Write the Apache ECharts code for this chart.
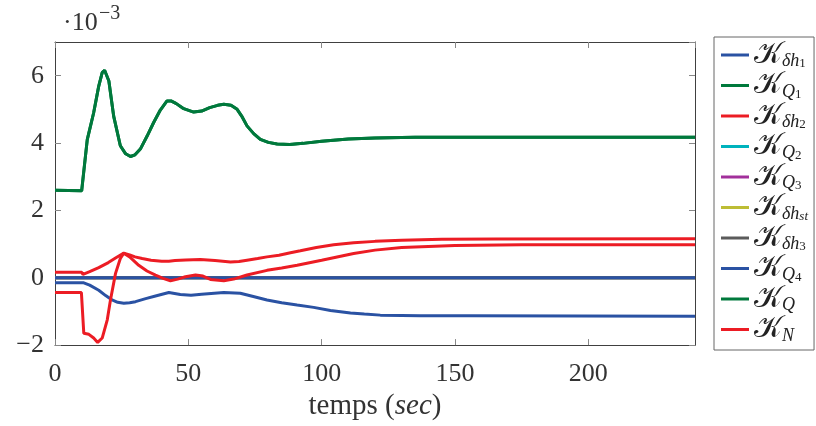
<!DOCTYPE html>
<html><head><meta charset="utf-8">
<script src="https://cdn.jsdelivr.net/npm/echarts@6/dist/echarts.min.js"></script>
<style>html,body{margin:0;padding:0;background:#fff}#c{width:816px;height:426px}</style>
</head><body><div id="c"></div>
<script>
// ---- data (values ×10^-3) ----
const xTicks = [0, 50, 100, 150, 200];
const yTicks = [-2, 0, 2, 4, 6];

const greenT = [0,10,12.1,14.5,16.4,17.7,18.6,20.2,22,24.5,26.5,28.3,30,32,34.5,37,39.5,42,43.5,45.5,48,52,55,58,61,63.3,66,68.3,70,72,74.5,77,80,83.3,88,93,100,110,120,135,160,240];
const greenV = [2.6,2.58,4.1,4.9,5.69,6.09,6.16,5.84,4.8,3.92,3.68,3.6,3.65,3.82,4.2,4.61,4.98,5.25,5.25,5.17,5.03,4.92,4.95,5.05,5.12,5.15,5.12,5.0,4.8,4.51,4.28,4.11,4.02,3.97,3.96,3.99,4.05,4.12,4.15,4.17,4.17,4.17];

const redAT = [0,10,10.5,13,16.4,20,23,25.8,28,30,32.7,36,40,42.7,45,49,54.5,60,65.8,69,72,76,79.5,84,88.3,92,98,104.5,112,120,130,145,165,240];
const redAV = [0.16,0.16,0.1,0.18,0.3,0.45,0.6,0.73,0.68,0.62,0.57,0.52,0.49,0.49,0.51,0.53,0.54,0.51,0.47,0.48,0.52,0.57,0.62,0.67,0.74,0.8,0.9,0.98,1.04,1.08,1.11,1.14,1.15,1.16];

const redBT = [0,9.9,10.8,12.7,14.5,16,17.7,19.6,20.8,22.7,24.5,25.8,28,31.4,34.5,37.7,40.5,43.3,46,48.9,52.7,55.5,58.3,63.3,67,72,79.5,85,90.8,100,112,120,130,150,175,240];
const redBV = [-0.44,-0.44,-1.65,-1.68,-1.79,-1.92,-1.79,-1.25,-0.66,0.13,0.57,0.73,0.62,0.37,0.2,0.08,-0.02,-0.09,-0.04,0.03,0.08,0.05,-0.05,-0.09,-0.04,0.08,0.22,0.29,0.37,0.52,0.72,0.82,0.9,0.96,0.98,0.98];

const blueT = [0,10.8,13,16.4,19,21.4,23.5,25.8,28,30.2,34,37.7,42.7,47,51,55,63.3,69.5,74,79.5,85,90.8,97,103.3,110.8,116,122,130,137,155,240];
const blueV = [-0.15,-0.15,-0.22,-0.37,-0.53,-0.66,-0.73,-0.76,-0.74,-0.71,-0.62,-0.54,-0.44,-0.5,-0.52,-0.49,-0.44,-0.46,-0.55,-0.66,-0.74,-0.81,-0.88,-0.97,-1.05,-1.08,-1.11,-1.12,-1.13,-1.13,-1.14];

const zeroT = [0, 240];
const zeroV = [0, 0];

const names = ['dh1','Q1','dh2','Q2','Q3','dhst','dh3','Q4','Q','N'];
const labels = {
  dh1: '{k|𝒦}{s|δh}{ss|1}',
  Q1: '{k|𝒦}{s|Q}{ss|1}',
  dh2: '{k|𝒦}{s|δh}{ss|2}',
  Q2: '{k|𝒦}{s|Q}{ss|2}',
  Q3: '{k|𝒦}{s|Q}{ss|3}',
  dhst: '{k|𝒦}{s|δh}{ssi|st}',
  dh3: '{k|𝒦}{s|δh}{ss|3}',
  Q4: '{k|𝒦}{s|Q}{ss|4}',
  Q: '{k|𝒦}{s|Q}',
  N: '{k|𝒦}{s|N}'
};
const colors = {
  dh1:'#2a52a3', Q1:'#00793c', dh2:'#ec1c24', Q2:'#00b3bd', Q3:'#a2309b',
  dhst:'#bdbd35', dh3:'#5b5b5b', Q4:'#2a52a3', Q:'#00793c', N:'#ec1c24'
};
const seriesData = {
  dh1:[blueT, blueV], Q1:[greenT, greenV], dh2:[redAT, redAV],
  Q2:[zeroT, zeroV], Q3:[zeroT, zeroV], dhst:[zeroT, zeroV], dh3:[zeroT, zeroV],
  Q4:[zeroT, zeroV], Q:[greenT, greenV], N:[redBT, redBV]
};

const serif = '"Liberation Serif", "DejaVu Serif", serif';
const chart = echarts.init(document.getElementById('c'), null, {renderer:'canvas'});
const minusFmt = v => (v < 0 ? '\u2212' + Math.abs(v) : String(v));
const axisCol = '#404040';
const tickStyle = {inside: true, length: 6, lineStyle: {color: '#888'}};

const series = names.map(n => ({
  name: n, type: 'line', showSymbol: false, symbol: 'none',
  data: seriesData[n][0].map((t, i) => [t, seriesData[n][1][i]]),
  lineStyle: {width: 3, color: colors[n]}, itemStyle: {color: colors[n]},
  xAxisIndex: 0, yAxisIndex: 0, animation: false
}));

chart.setOption({
  animation: false,
  grid: {left: 55, right: 121, top: 42, bottom: 79, containLabel: false},
  xAxis: [{
    type: 'value', min: 0, max: 240, interval: 50, position: 'bottom',
    axisLine: {onZero: false, lineStyle: {color: axisCol, width: 1}},
    axisTick: tickStyle,
    axisLabel: {showMaxLabel: false, margin: 16, fontFamily: serif, fontSize: 26, color: '#333',
      formatter: v => xTicks.includes(v) ? String(v) : ''},
    splitLine: {show: false},
    name: '{a|temps (}{b|sec}{a|)}', nameLocation: 'middle', nameGap: 42,
    nameTextStyle: {rich: {a: {fontFamily: serif, fontSize: 29, color: '#333'},
                           b: {fontFamily: serif, fontSize: 29, fontStyle: 'italic', color: '#333'}}}
  }, {
    type: 'value', min: 0, max: 240, interval: 50, position: 'top',
    axisLine: {show: true, onZero: false, lineStyle: {color: axisCol, width: 1}},
    axisTick: tickStyle,
    axisLabel: {show: false}, splitLine: {show: false}
  }],
  yAxis: [{
    type: 'value', min: -2, max: 7, interval: 2, position: 'left',
    axisLine: {show: true, onZero: false, lineStyle: {color: axisCol, width: 1}},
    axisTick: tickStyle,
    axisLabel: {showMaxLabel: false, margin: 11, fontFamily: serif, fontSize: 26, color: '#333',
      formatter: v => yTicks.includes(v) ? minusFmt(v) : ''},
    splitLine: {show: false}
  }, {
    type: 'value', min: -2, max: 7, interval: 2, position: 'right',
    axisLine: {show: true, onZero: false, lineStyle: {color: axisCol, width: 1}},
    axisTick: tickStyle,
    axisLabel: {show: false}, splitLine: {show: false}
  }],
  legend: {
    orient: 'vertical', left: 714, top: 37, data: names,
    icon: 'rect', itemWidth: 28, itemHeight: 3, itemGap: 0,
    padding: [3, 6, 5, 7], borderColor: '#666', borderWidth: 1, backgroundColor: '#fff',
    selectedMode: false,
    formatter: n => labels[n],
    textStyle: {
      color: '#222',
      rich: {
        k: {fontFamily: serif, fontSize: 30, lineHeight: 31, color: '#222'},
        s: {fontFamily: serif, fontSize: 18, fontStyle: 'italic', lineHeight: 13, verticalAlign: 'bottom', color: '#222'},
        ss: {fontFamily: serif, fontSize: 13, lineHeight: 6, verticalAlign: 'bottom', color: '#222'},
        ssi: {fontFamily: serif, fontSize: 13, fontStyle: 'italic', lineHeight: 6, verticalAlign: 'bottom', color: '#222'}
      }
    }
  },
  graphic: [
    {type: 'text', left: 63, top: 10, style: {text: '·10', font: '26px ' + serif, fill: '#333'}},
    {type: 'text', left: 99, top: 4, style: {text: '\u22123', font: '20px ' + serif, fill: '#333'}}
  ],
  series: series
});
</script></body></html>
